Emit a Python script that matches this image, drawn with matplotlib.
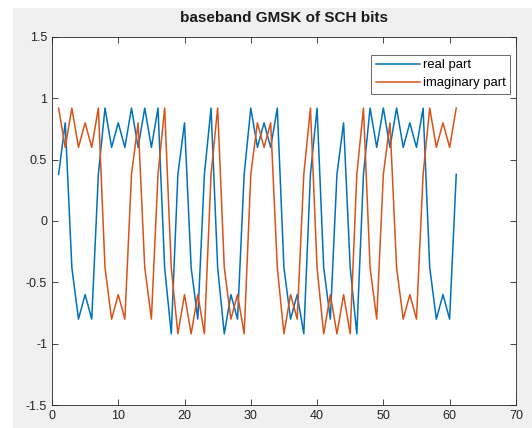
"""
baseband GMSK of SCH bits, real and imaginary part per sample
"""

import matplotlib
matplotlib.use("Agg")
import matplotlib.pyplot as plt
from matplotlib.patches import Rectangle

samples = list(range(1, 62))

real_part = [0.38, 0.80, -0.38, -0.80, -0.60, -0.80, 0.38, 0.92, 0.60, 0.80,
             0.60, 0.92, 0.60, 0.92, 0.60, 0.92, -0.38, -0.92, 0.38, 0.80,
             -0.38, -0.80, 0.38, 0.92, -0.38, -0.92, -0.60, -0.80, 0.38, 0.92,
             0.60, 0.80, 0.60, 0.92, -0.38, -0.80, -0.60, -0.92, 0.38, 0.92,
             -0.38, -0.80, 0.38, 0.80, -0.38, -0.92, 0.38, 0.92, 0.60, 0.92,
             0.60, 0.92, 0.60, 0.80, 0.60, 0.92, -0.38, -0.80, -0.60, -0.80,
             0.38]

imag_part = [0.92, 0.60, 0.92, 0.60, 0.80, 0.60, 0.92, -0.38, -0.80, -0.60,
             -0.80, 0.38, 0.80, -0.38, -0.80, 0.38, 0.92, -0.38, -0.92, -0.60,
             -0.92, -0.60, -0.92, 0.38, 0.92, -0.38, -0.80, -0.60, -0.92, 0.38,
             0.80, 0.60, 0.80, -0.38, -0.92, -0.60, -0.80, 0.38, 0.92, -0.38,
             -0.92, -0.60, -0.92, -0.60, -0.92, 0.38, 0.92, -0.38, -0.80, 0.38,
             0.80, -0.38, -0.80, -0.60, -0.80, 0.38, 0.92, 0.60, 0.80, 0.60,
             0.92]

x_ticks = [0, 10, 20, 30, 40, 50, 60, 70]
y_ticks = [-1.5, -1, -0.5, 0, 0.5, 1, 1.5]
y_tick_labels = ["-1.5", "-1", "-0.5", "0", "0.5", "1", "1.5"]


def plot():
    """
    draw both parts the way matlab does, save to out.png
    """
    plt.rcParams['font.family'] = ['Liberation Sans', 'DejaVu Sans']
    fig = plt.figure(figsize=(5.32, 4.28), dpi=100, facecolor="#f0f0f0")
    # screenshot leaves a white strip on top and left
    fig.add_artist(Rectangle((0, 0.981), 1, 0.019, transform=fig.transFigure,
                             facecolor="white", edgecolor="none", zorder=-1))
    fig.add_artist(Rectangle((0, 0), 0.024, 1, transform=fig.transFigure,
                             facecolor="white", edgecolor="none", zorder=-1))

    ax = fig.add_axes([0.0977, 0.0537, 0.872, 0.86])
    ax.set_facecolor("white")

    ax.plot(samples, real_part, color="#0072BD", linewidth=1.1, label="real part")
    ax.plot(samples, imag_part, color="#D95319", linewidth=1.1, label="imaginary part")

    ax.set_xlim(0, 70)
    ax.set_ylim(-1.5, 1.5)
    ax.set_xticks(x_ticks)
    ax.set_yticks(y_ticks)
    ax.set_yticklabels(y_tick_labels)
    ax.tick_params(direction="in", top=True, right=True, length=4,
                   labelsize=9, colors="#262626", width=0.6)
    for side in ax.spines.values():
        side.set_color("#262626")
        side.set_linewidth(0.6)

    ax.set_title("baseband GMSK of SCH bits", fontsize=11, fontweight="bold",
                 color="#1a1a1a", pad=11)

    leg = ax.legend(loc="upper right", bbox_to_anchor=(0.988, 0.952), fontsize=9.4,
                    frameon=True, fancybox=False, borderpad=0.35, handlelength=3.4,
                    handletextpad=0.2, labelspacing=0.45, borderaxespad=0)
    leg.get_frame().set_edgecolor("#262626")
    leg.get_frame().set_linewidth(0.6)

    fig.savefig("out.png", dpi=100, facecolor=fig.get_facecolor())


def main():
    """
    Main function.
    """
    plot()


if __name__ == '__main__':
    main()
